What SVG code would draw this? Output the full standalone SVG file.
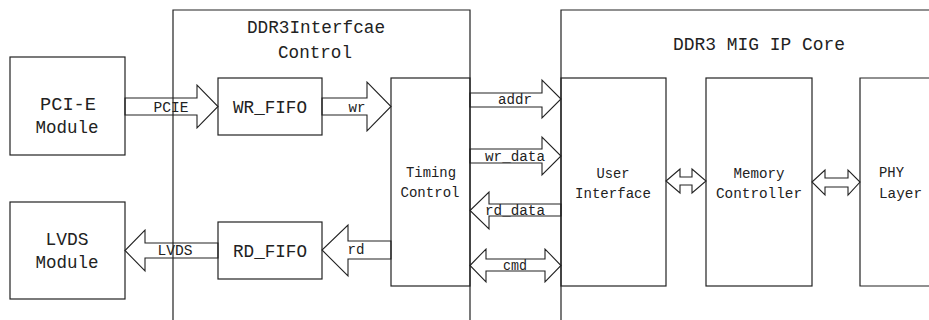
<svg xmlns="http://www.w3.org/2000/svg" width="929" height="320" viewBox="0 0 929 320">
<style>
  .box { fill: none; stroke: #222; stroke-width: 1.2; }
  .arrow { fill: none; stroke: #222; stroke-width: 1.1; stroke-linejoin: miter; }
  .big { font-family: "Liberation Mono", "DejaVu Sans Mono", monospace; font-size: 19px; fill: #222; text-anchor: middle; }
  .small { font-family: "Liberation Mono", "DejaVu Sans Mono", monospace; font-size: 15.5px; fill: #222; text-anchor: middle; }
</style>
<rect width="929" height="320" fill="#fff"/>

<g id="ddr3-interface-control">
  <polyline class="box" points="173,330 173,10 470,10 470,330"/>
  <text class="big" x="316" y="33" textLength="138" lengthAdjust="spacingAndGlyphs">DDR3Interfcae</text>
  <text class="big" x="315" y="58" textLength="74" lengthAdjust="spacingAndGlyphs">Control</text>
</g>

<g id="mig-ip-core">
  <polyline class="box" points="561,330 561,10 935,10"/>
  <text class="big" x="759" y="50" textLength="172" lengthAdjust="spacingAndGlyphs">DDR3 MIG IP Core</text>
</g>

<g id="pcie-module">
  <rect class="box" x="10" y="57" width="115" height="98"/>
  <text class="big" x="68" y="110" textLength="56" lengthAdjust="spacingAndGlyphs">PCI-E</text>
  <text class="big" x="67" y="133" textLength="63" lengthAdjust="spacingAndGlyphs">Module</text>
</g>

<g id="lvds-module">
  <rect class="box" x="10" y="202" width="115" height="97"/>
  <text class="big" x="67" y="245" textLength="43" lengthAdjust="spacingAndGlyphs">LVDS</text>
  <text class="big" x="67" y="268" textLength="63" lengthAdjust="spacingAndGlyphs">Module</text>
</g>

<g id="wr-fifo">
  <rect class="box" x="218" y="78" width="104" height="57"/>
  <text class="big" x="270" y="113" textLength="74" lengthAdjust="spacingAndGlyphs">WR_FIFO</text>
</g>

<g id="rd-fifo">
  <rect class="box" x="218" y="222" width="104" height="57"/>
  <text class="big" x="270" y="257" textLength="74" lengthAdjust="spacingAndGlyphs">RD_FIFO</text>
</g>

<g id="timing-control">
  <rect class="box" x="391" y="78" width="79" height="208"/>
  <text class="small" x="431" y="177" textLength="50" lengthAdjust="spacingAndGlyphs">Timing</text>
  <text class="small" x="430" y="197" textLength="59" lengthAdjust="spacingAndGlyphs">Control</text>
</g>

<g id="user-interface">
  <rect class="box" x="561" y="78" width="105" height="208"/>
  <text class="small" x="613" y="178" textLength="33" lengthAdjust="spacingAndGlyphs">User</text>
  <text class="small" x="613" y="198" textLength="76" lengthAdjust="spacingAndGlyphs">Interface</text>
</g>

<g id="memory-controller">
  <rect class="box" x="706" y="78" width="106" height="208"/>
  <text class="small" x="759" y="178" textLength="51" lengthAdjust="spacingAndGlyphs">Memory</text>
  <text class="small" x="759" y="198" textLength="86" lengthAdjust="spacingAndGlyphs">Controller</text>
</g>

<g id="phy-layer">
  <polyline class="box" points="935,78 860,78 860,286 935,286"/>
  <text class="small" x="879" y="177" text-anchor="start" style="text-anchor:start" textLength="25" lengthAdjust="spacingAndGlyphs">PHY</text>
  <text class="small" x="879" y="198" style="text-anchor:start" textLength="43" lengthAdjust="spacingAndGlyphs">Layer</text>
</g>

<g id="connectors">
  <!-- PCIE: PCI-E Module -> WR_FIFO -->
  <polygon class="arrow" points="125,98 197,98 197,85 218,106.5 197,128 197,115 125,115"/>
  <text class="small" x="171" y="112" textLength="35" lengthAdjust="spacingAndGlyphs">PCIE</text>
  <!-- wr: WR_FIFO -> Timing Control -->
  <polygon class="arrow" points="322,98 367,98 367,82 391,106.5 367,131 367,115 322,115"/>
  <text class="small" x="357" y="112" textLength="17" lengthAdjust="spacingAndGlyphs">wr</text>
  <!-- LVDS: RD_FIFO -> LVDS Module -->
  <polygon class="arrow" points="218,243 145,243 145,230 125,250.5 145,271 145,258 218,258"/>
  <text class="small" x="175" y="255" textLength="35" lengthAdjust="spacingAndGlyphs">LVDS</text>
  <!-- rd: Timing Control -> RD_FIFO -->
  <polygon class="arrow" points="391,241 348,241 348,225 322,250 348,276 348,259 391,259"/>
  <text class="small" x="356" y="254" textLength="17" lengthAdjust="spacingAndGlyphs">rd</text>
  <!-- addr -->
  <polygon class="arrow" points="470,93 542,93 542,80 561,99 542,118 542,107 470,107"/>
  <text class="small" x="515" y="104" textLength="34" lengthAdjust="spacingAndGlyphs">addr</text>
  <!-- wr_data -->
  <polygon class="arrow" points="470,149 542,149 542,137 561,156 542,175 542,163 470,163"/>
  <text class="small" x="515" y="161" textLength="60" lengthAdjust="spacingAndGlyphs">wr_data</text>
  <!-- rd_data -->
  <polygon class="arrow" points="561,204 489,204 489,192 470,210.5 489,229 489,216 561,216"/>
  <text class="small" x="515" y="215" textLength="60" lengthAdjust="spacingAndGlyphs">rd_data</text>
  <!-- cmd (bidirectional) -->
  <polygon class="arrow" points="470,265.5 486,249 486,259 545,259 545,249 561,265.5 545,282 545,271 486,271 486,282"/>
  <text class="small" x="515" y="270" textLength="24" lengthAdjust="spacingAndGlyphs">cmd</text>
  <!-- User Interface <-> Memory Controller -->
  <polygon class="arrow" points="666,181 680,169 680,177 692,177 692,169 706,181 692,193 692,185 680,185 680,193"/>
  <!-- Memory Controller <-> PHY Layer -->
  <polygon class="arrow" points="812,182 825,170 825,178 848,178 848,170 860,182 848,195 848,187 825,187 825,195"/>
</g>
</svg>
